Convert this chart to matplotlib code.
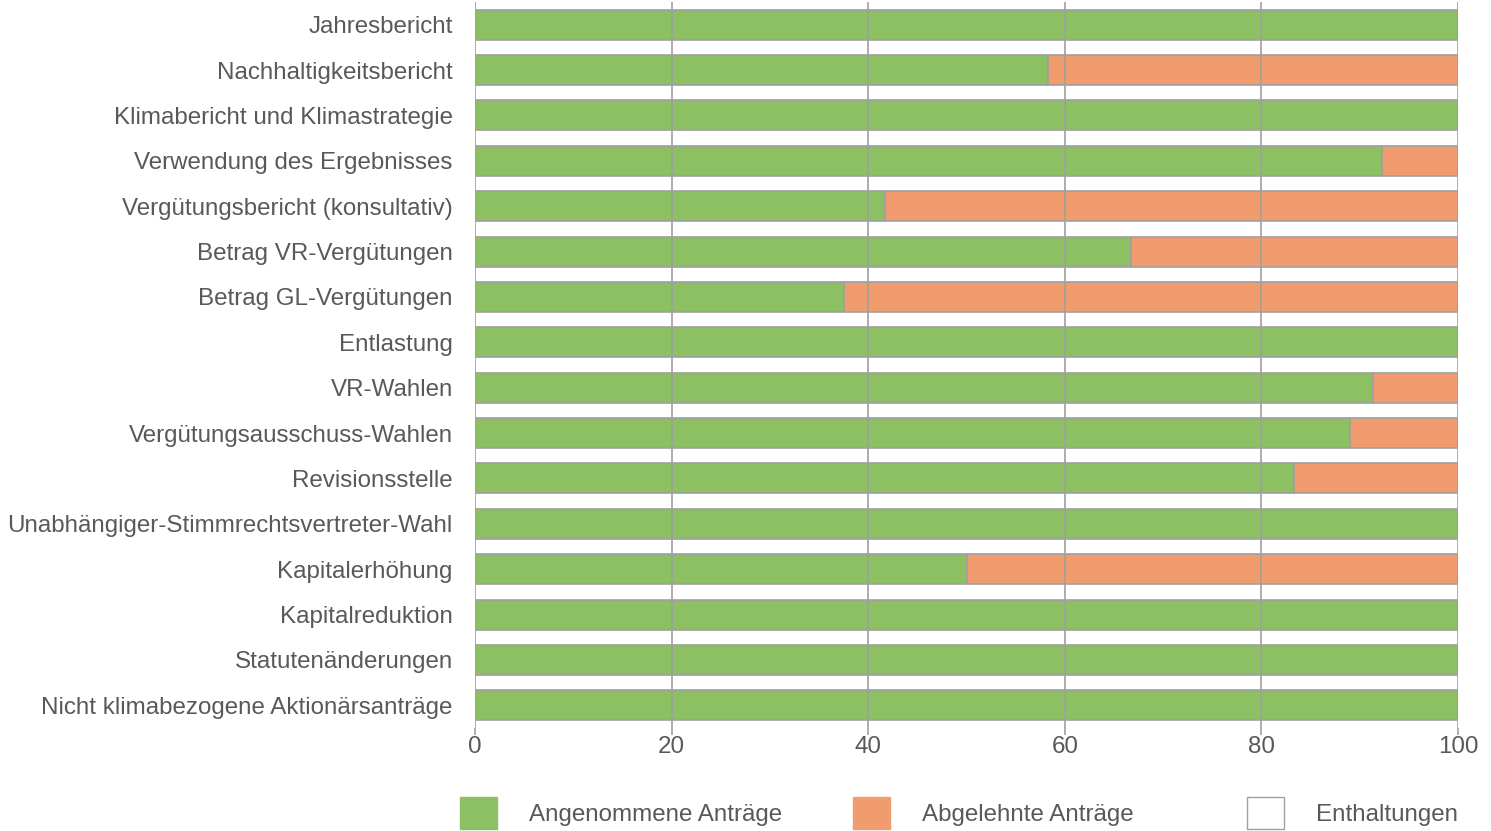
import matplotlib.pyplot as plt
import numpy as np
from matplotlib.patches import Patch

plt.rcParams['font.family'] = ['Liberation Sans', 'DejaVu Sans']

kategorien = [
    "Jahresbericht",
    "Nachhaltigkeitsbericht",
    "Klimabericht und Klimastrategie",
    "Verwendung des Ergebnisses",
    "Vergütungsbericht (konsultativ)",
    "Betrag VR-Vergütungen",
    "Betrag GL-Vergütungen",
    "Entlastung",
    "VR-Wahlen",
    "Vergütungsausschuss-Wahlen",
    "Revisionsstelle",
    "Unabhängiger-Stimmrechtsvertreter-Wahl",
    "Kapitalerhöhung",
    "Kapitalreduktion",
    "Statutenänderungen",
    "Nicht klimabezogene Aktionärsanträge",
]
angenommen = [100, 58.3, 100, 92.3, 41.7, 66.7, 37.5, 100, 91.4, 89.0, 83.3, 100, 50.0, 100, 100, 100]
abgelehnt = [0, 41.7, 0, 7.7, 58.3, 33.3, 62.5, 0, 8.6, 11.0, 16.7, 0, 50.0, 0, 0, 0]
enthaltungen = [0] * 16

gruen = "#8dbf63"
orange = "#f09c6f"
rand = "#a0a0a0"
textfarbe = "#595959"
fs = 17.4

fig = plt.figure(figsize=(14.91, 8.31), dpi=100)
ax = fig.add_axes([475 / 1491, 1 - 728 / 831, 983 / 1491, 726 / 831])

y = np.arange(len(kategorien))
ax.barh(y, angenommen, height=0.66, color=gruen, edgecolor=rand, linewidth=1.2, zorder=2)
ax.barh(y, abgelehnt, left=angenommen, height=0.66, color=orange, edgecolor=rand, linewidth=1.2, zorder=2)
links = np.array(angenommen) + np.array(abgelehnt)
ax.barh(y, enthaltungen, left=links, height=0.66, color="white", edgecolor=rand, linewidth=1.2, zorder=2)

ax.set_xlim(0, 100)
ax.set_ylim(len(kategorien) - 0.5, -0.5)
ax.set_yticks(y)
ax.set_yticklabels(kategorien)
ax.set_xticks([0, 20, 40, 60, 80, 100])
ax.grid(axis="x", color=rand, linewidth=1.2, zorder=3)
ax.set_axisbelow(False)
for s in ax.spines.values():
    s.set_visible(False)
ax.tick_params(axis="y", length=0, pad=16, labelsize=fs, labelcolor=textfarbe)
ax.tick_params(axis="x", length=5, color=rand, width=1.2, pad=1, labelsize=fs, labelcolor=textfarbe)

# Legende: drei Spalten mit fester Breite
eintraege = [
    (Patch(facecolor=gruen, edgecolor=gruen), "Angenommene Anträge", 460),
    (Patch(facecolor=orange, edgecolor=orange), "Abgelehnte Anträge", 853),
    (Patch(facecolor="white", edgecolor=rand), "Enthaltungen", 1247),
]
for h, txt, xpos in eintraege:
    leg = fig.legend(handles=[h], labels=[txt], loc="upper left",
                     bbox_to_anchor=(xpos / 1491, 1 - 797 / 831),
                     frameon=False, fontsize=fs, labelcolor=textfarbe,
                     handlelength=1.55, handleheight=1.65, handletextpad=1.3,
                     borderaxespad=0, borderpad=0)

fig.savefig("out.png", dpi=100)
